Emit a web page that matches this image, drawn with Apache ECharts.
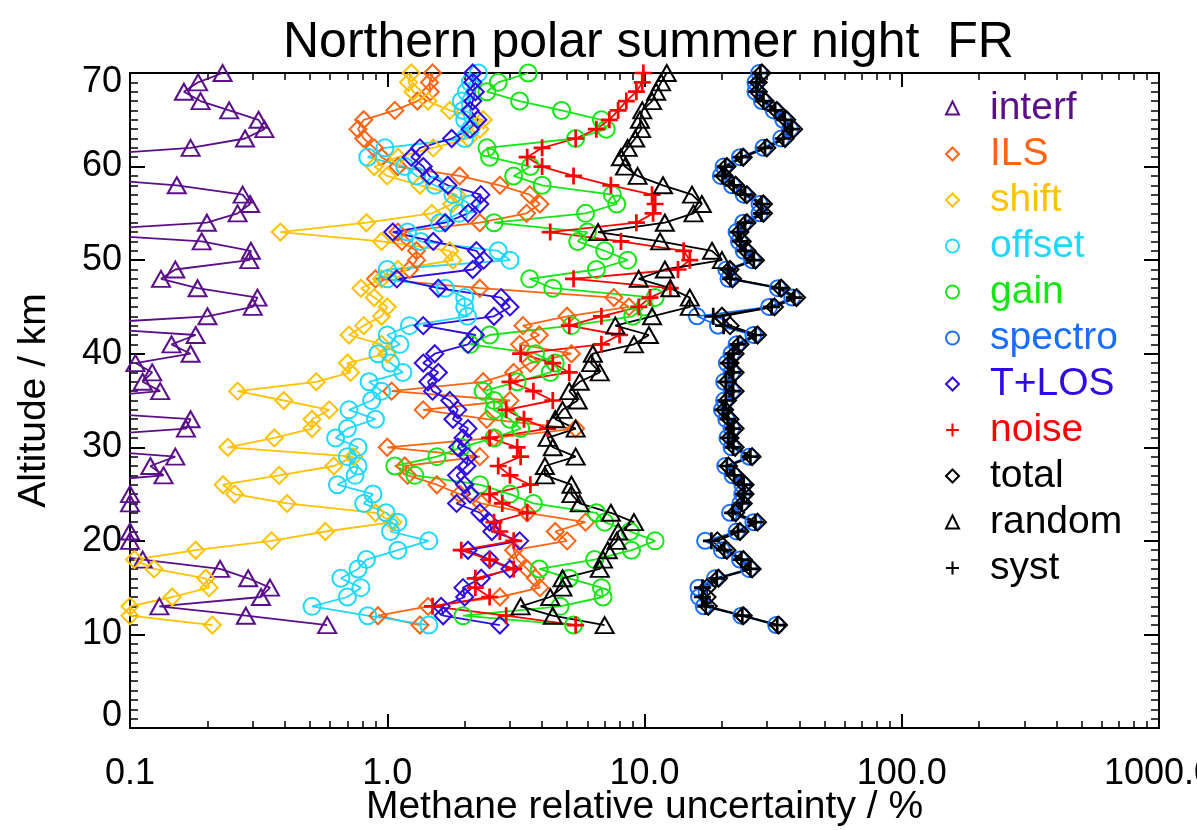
<!DOCTYPE html>
<html><head><meta charset="utf-8">
<script src="https://cdn.jsdelivr.net/npm/echarts@6.0.0/dist/echarts.min.js"></script>
<style>html,body{margin:0;padding:0;background:#fff}#c{width:1197px;height:830px}</style>
</head><body><div id="c"></div>
<script>
// Altitude levels (km)
const altitudes = [11,12,13,14,15,16,17,18,19,20,21,22,23,24,25,26,27,28,29,30,
  31,32,33,34,35,36,37,38,39,40,41,42,43,44,45,46,47,48,49,50,
  51,52,53,54,55,56,57,58,59,60,61,62,63,64,65,66,67,68,69,70];

// Relative uncertainty (%) per altitude, km 11 -> 70
const interf = [0.584,0.282,0.13,0.323,0.35,0.288,0.224,0.112,0.06,0.1,
  0.1,0.05,0.05,0.1,0.1,0.05,0.135,0.12,0.15,0.05,
  0.05,0.165,0.172,0.05,0.05,0.131,0.112,0.122,0.105,0.172,
  0.145,0.18,0.05,0.2,0.3,0.313,0.183,0.132,0.15,0.291,
  0.295,0.19,0.05,0.199,0.262,0.293,0.274,0.152,0.05,0.05,
  0.05,0.172,0.28,0.333,0.316,0.243,0.188,0.162,0.184,0.229];
const ils = [1.34,0.92,1.44,2.74,3.92,3.77,3.5,3.2,3.1,5.0,
  4.5,5.9,3.5,2.32,1.91,1.56,1.2,1.17,2.29,1.0,
  2.6,5.4,2.44,1.38,3.0,1.04,2.36,3.1,3.6,5.2,
  3.27,3.9,3.37,5.0,8.7,7.6,2.29,0.9,1.22,1.3,
  1.3,1.14,1.1,2.29,3.48,3.92,3.58,2.74,1.91,1.1,
  0.95,0.89,0.81,0.77,0.81,1.07,1.31,1.47,1.46,1.5];
const shift = [0.209,0.1,0.1,0.146,0.203,0.197,0.124,0.104,0.18,0.355,
  0.575,1.05,0.9,0.408,0.255,0.23,0.38,0.62,0.74,0.24,
  0.364,0.51,0.51,0.595,0.396,0.262,0.53,0.72,0.70,1.0,
  0.95,0.71,0.81,0.95,1.0,0.89,0.79,0.95,1.1,1.8,
  1.75,0.95,0.384,0.83,1.49,1.78,1.86,1.34,1.0,0.89,
  1.1,1.51,2.07,2.29,2.36,1.75,1.44,1.26,1.21,1.24];
const offset = [1.45,0.84,0.51,0.70,0.79,0.66,0.77,0.83,1.1,1.45,
  1.03,1.1,0.99,0.81,0.88,0.64,0.75,0.77,0.70,0.77,
  0.63,0.70,0.9,0.71,0.87,0.95,0.85,1.15,1.03,0.92,
  1.12,1.0,1.22,2.05,2.0,2.0,1.68,1.0,1.0,3.0,
  2.7,1.35,1.2,1.6,1.9,2.1,1.8,1.53,1.3,1.17,
  0.84,0.98,2.0,2.1,2.0,1.97,1.94,2.03,2.1,2.26];
const gain = [5.3,1.97,4.7,6.9,6.8,5.1,3.9,6.4,8.9,11,
  8.8,7.0,6.5,3.7,3.0,2.29,1.28,1.07,1.56,1.94,
  2.6,3.3,3.0,2.6,2.6,2.36,3.2,4.3,4.5,3.77,
  2.1,2.5,5.2,9.0,10,11,4.4,3.58,6.5,8.6,
  7.0,5.5,6.0,2.6,5.9,7.8,7.5,4.0,3.1,3.6,
  2.5,2.44,5.4,7.1,6.8,4.76,3.27,2.44,2.7,3.53];
const spectro = [32.5,23.8,17.0,16.3,16.2,18.8,25.5,23.5,20.0,17.2,
  22.8,26.5,21.5,23.6,24.0,24.0,22.0,20.6,25.5,21.8,
  21.0,21.8,20.8,20.0,20.4,21.8,20.4,21.8,20.9,21.8,
  22.8,26.5,19.3,16.0,30.5,37.5,33,21.2,20.8,26.2,
  24.3,23.3,22.8,24.2,28.0,28.0,24.3,21.9,19.8,20.3,
  23.5,29.0,34.0,36.8,34.6,31.8,28.6,27.0,27.0,27.9];
const tlos = [2.74,1.65,1.62,2.0,1.97,2.32,3.0,2.5,2.06,3.27,
  2.55,2.5,2.29,1.86,2.1,2.0,1.86,2.04,2.06,1.88,
  1.97,2.06,1.8,1.88,1.75,1.5,1.44,1.58,1.38,1.53,
  2.06,2.2,1.38,2.6,3.0,2.77,1.58,1.09,2.15,2.37,
  2.22,1.51,1.05,1.68,2.06,2.29,2.31,1.72,1.46,1.38,
  1.24,1.34,1.78,2.1,2.25,2.1,2.15,2.2,2.15,2.15];
const noise = [5.4,2.9,1.5,2.5,2.2,2.2,3.1,2.5,1.94,3.1,
  2.74,2.6,3.5,2.8,2.5,3.6,3.0,2.7,3.3,3.2,
  2.5,4.2,3.4,2.9,4.4,3.7,3.0,5.1,4.4,3.3,
  6.8,8.0,5.1,6.8,9.5,10.5,12.6,5.3,13.5,15,
  14.2,8.1,4.3,9.3,10.8,11.0,10.7,7.4,5.3,4.0,
  3.5,4.0,5.4,6.5,7.3,7.9,8.5,9.3,9.8,9.9];
const total = [33.2,24.2,17.7,17.5,17.5,19.4,26.2,24.2,20.9,19.2,
  23.5,27.5,22.6,24.2,24.6,24.6,22.6,21.2,26.2,22.5,
  21.5,22.5,21.5,20.5,21,22.5,21,22.5,21.5,22.5,
  23.5,27.5,21.5,20,32,39,34,22,21.5,27,
  25,24,23.5,25,29,29,25,22.6,20.4,20.9,
  24.2,29.9,35.2,38,35.7,32.7,29.4,27.7,27.7,28.6];
const random = [7.0,4.4,3.3,4.3,4.8,4.8,6.7,6.9,7.2,7.8,
  7.9,9.1,7.4,5.6,5.2,5.2,4.1,4.1,5.4,4.4,
  4.2,5.4,4.5,4.8,5.5,5.1,5.6,6.7,6.2,6.3,
  9.1,10.4,7.7,10.7,15,15,12.6,9.5,12,20,
  18.3,11.5,6.6,12,15.5,16.7,15.3,11.8,9.4,8.4,
  8.1,8.6,9.2,9.7,9.6,9.8,10.7,11.1,11.6,12.2];
const syst = [32.8,24.0,17.3,16.8,16.8,19.1,25.8,23.8,20.4,18.2,
  23.1,27.0,22.0,23.9,24.3,24.3,22.3,20.9,25.8,22.1,
  21.2,22.1,21.1,20.2,20.7,22.1,20.7,22.1,21.2,22.1,
  23.1,27.0,20.3,18.5,31.2,38.2,33.5,21.6,21.1,26.6,
  24.6,23.6,23.1,24.6,28.5,28.5,24.6,22.2,20.1,20.6,
  23.8,29.4,34.6,37.4,35.1,32.2,29.0,27.3,27.3,28.2];

// Axis tick labels / minor tick positions
const xTickLabels = ['0.1','1.0','10.0','100.0','1000.0'];
const xMinorTicks = [0.2,0.3,0.4,0.5,0.6,0.7,0.8,0.9,2,3,4,5,6,7,8,9,
  20,30,40,50,60,70,80,90,200,300,400,500,600,700,800,900];

const FONT = 'Liberation Sans';
const PLUS = 'path://M4.2,0H5.8V4.2H10V5.8H5.8V10H4.2V5.8H0V4.2H4.2Z';

const defs = [
  {name:'interf', data:interf, color:'#5b0e8a', symbol:'triangle', size:[18,16]},
  {name:'ILS', data:ils, color:'#ff6414', symbol:'diamond', size:17},
  {name:'shift', data:shift, color:'#ffc200', symbol:'diamond', size:17},
  {name:'offset', data:offset, color:'#1ed8ff', symbol:'circle', size:17},
  {name:'gain', data:gain, color:'#14e614', symbol:'circle', size:17},
  {name:'spectro', data:spectro, color:'#1a6eff', symbol:'circle', size:16},
  {name:'T+LOS', data:tlos, color:'#2d0be6', symbol:'diamond', size:17},
  {name:'noise', data:noise, color:'#ff0000', symbol:PLUS, size:17},
  {name:'total', data:total, color:'#000000', symbol:'diamond', size:17},
  {name:'random', data:random, color:'#000000', symbol:'triangle', size:[18,16]},
  {name:'syst', data:syst, color:'#000000', symbol:PLUS, size:17}
];

const series = defs.map(d => {
  const filled = d.symbol === PLUS;
  return {
    name: d.name, type: 'line', xAxisIndex: 0, yAxisIndex: 0,
    data: altitudes.map((a, i) => [d.data[i], a]),
    symbol: d.symbol, symbolSize: d.size, showAllSymbol: true,
    lineStyle: {color: d.color, width: 1.8},
    itemStyle: filled ? {color: d.color, borderWidth: 0}
                      : {color: 'rgba(0,0,0,0)', borderColor: d.color, borderWidth: 2},
    emphasis: {disabled: true}, clip: true, z: 2
  };
});

const axisLineStyle = {color: '#000', width: 2};
const labelText = {fontSize: 36, color: '#000', fontFamily: FONT};
function xAxisDef(pos, minor) {
  const main = pos === 'bottom' && !minor;
  return {
    type: 'log', logBase: 10, min: 0.1, max: 1000, position: pos,
    axisLine: {show: true, onZero: false, lineStyle: axisLineStyle},
    axisTick: minor ? {show: true, inside: true, length: 7, customValues: xMinorTicks, lineStyle: {color:'#000', width: 1.5}}
                    : {show: true, inside: true, length: 14, lineStyle: {color:'#000', width: 2}},
    axisLabel: main ? Object.assign({
      show: true, margin: 28,
      showMinLabel: true, showMaxLabel: true, hideOverlap: false,
      formatter: v => xTickLabels[Math.round(Math.log10(v)) + 1]
    }, labelText) : {show: false},
    splitLine: {show: false},
    name: main ? 'Methane relative uncertainty / %' : '',
    nameLocation: 'middle', nameGap: 60, nameMoveOverlap: false,
    nameTextStyle: {fontSize: 39, color: '#000', fontFamily: FONT}
  };
}
function yAxisDef(pos) {
  const main = pos === 'left';
  return {
    type: 'value', min: 0, max: 70, interval: 10, position: pos,
    axisLine: {show: true, onZero: false, lineStyle: axisLineStyle},
    axisTick: {show: true, inside: true, length: 15, lineStyle: {color:'#000', width: 2}},
    minorTick: {show: true, splitNumber: 10, length: 8, lineStyle: {color:'#000', width: 1.5}},
    splitLine: {show: false},
    axisLabel: main ? Object.assign({show: true, margin: 8,
      formatter: v => v === 70 ? '{t|70}' : (v === 0 ? '{b|0}' : String(v)),
      rich: {
        t: Object.assign({padding: [18, 0, 0, 0]}, labelText),
        b: Object.assign({padding: [0, 0, 24, 0]}, labelText)
      }}, labelText) : {show: false},
    name: main ? 'Altitude / km' : '',
    nameLocation: 'middle', nameGap: 76, nameRotate: 90, nameMoveOverlap: false,
    nameTextStyle: {fontSize: 39, color: '#000', fontFamily: FONT}
  };
}

const chart = echarts.init(document.getElementById('c'), null, {renderer: 'canvas'});
chart.setOption({
  animation: false,
  backgroundColor: '#fff',
  title: {text: 'Northern polar summer night  FR', left: 278, top: 13,
    textStyle: {fontSize: 50, fontWeight: 'normal', color: '#000', fontFamily: FONT}},
  grid: {left: 130, right: 38, top: 73, bottom: 102, containLabel: false, outerBoundsMode: 'none'},
  xAxis: [xAxisDef('bottom', false), xAxisDef('bottom', true), xAxisDef('top', false), xAxisDef('top', true)],
  yAxis: [yAxisDef('left'), yAxisDef('right')],
  legend: {
    orient: 'vertical', left: 940, top: 80, itemGap: 0, itemWidth: 13, itemHeight: 13,
    selectedMode: false,
    textStyle: {fontSize: 39, fontFamily: FONT, lineHeight: 46, padding: [0, 0, 0, 26]},
    data: defs.map(d => ({name: d.name, icon: d.symbol, textStyle: {color: d.color}}))
  },
  series: series
});
</script></body></html>
